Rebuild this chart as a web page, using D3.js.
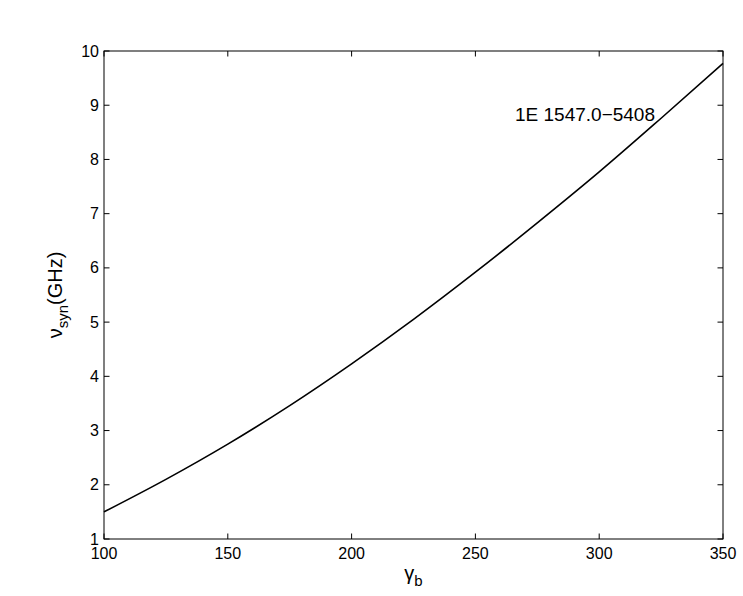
<!DOCTYPE html>
<html><head><meta charset="utf-8">
<script src="https://cdn.jsdelivr.net/npm/d3@7"></script>
<style>body{margin:0;background:#fff;} svg{display:block;}</style>
</head><body>
<svg id="c" width="743" height="596"></svg>
<script>
const gammaB = [100, 125, 150, 175, 200, 225, 250, 275, 300, 325, 350];
const nuSyn  = [1.50, 2.10, 2.75, 3.46, 4.23, 5.05, 5.92, 6.83, 7.77, 8.76, 9.77];
const xTicks = [100, 150, 200, 250, 300, 350];
const yTicks = [1, 2, 3, 4, 5, 6, 7, 8, 9, 10];
const annotation = "1E 1547.0\u22125408";

const svg = d3.select("#c");
const m = {l:104, r:723, t:51, b:539};
const x = d3.scaleLinear().domain([100,350]).range([m.l, m.r]);
const y = d3.scaleLinear().domain([1,10]).range([m.b, m.t]);
const font = "Liberation Sans, Arial, Helvetica, sans-serif";

// ticks on all four sides (inward)
const tl = 5.5;
const ax = svg.append("g").attr("stroke","#000").attr("stroke-width",1);
xTicks.forEach(v=>{
  ax.append("line").attr("x1",x(v)).attr("x2",x(v)).attr("y1",m.b).attr("y2",m.b-tl);
  ax.append("line").attr("x1",x(v)).attr("x2",x(v)).attr("y1",m.t).attr("y2",m.t+tl);
});
yTicks.forEach(v=>{
  ax.append("line").attr("x1",m.l).attr("x2",m.l+tl).attr("y1",y(v)).attr("y2",y(v));
  ax.append("line").attr("x1",m.r).attr("x2",m.r-tl).attr("y1",y(v)).attr("y2",y(v));
});
svg.append("rect").attr("x",m.l).attr("y",m.t).attr("width",m.r-m.l).attr("height",m.b-m.t)
  .attr("fill","none").attr("stroke","#000").attr("stroke-width",1);

// tick labels
svg.append("g").selectAll("text").data(xTicks).join("text")
  .attr("x",d=>x(d)).attr("y",m.b+20).attr("text-anchor","middle")
  .attr("font-family",font).attr("font-size",16).text(d=>d);
svg.append("g").selectAll("text").data(yTicks).join("text")
  .attr("x",m.l-5).attr("y",d=>y(d)+5.5).attr("text-anchor","end")
  .attr("font-family",font).attr("font-size",16).text(d=>d);

// curve
const line = d3.line().x((d,i)=>x(gammaB[i])).y(d=>y(d)).curve(d3.curveMonotoneX);
svg.append("path").datum(nuSyn).attr("d",line).attr("fill","none")
  .attr("stroke","#000").attr("stroke-width",1.6);

// annotation
svg.append("text").attr("x",515).attr("y",121).attr("font-family",font)
  .attr("font-size",19).text(annotation);

// x label
const xl = svg.append("text").attr("x",(m.l+m.r)/2).attr("y",580).attr("text-anchor","middle")
  .attr("font-family",font).attr("font-size",20);
xl.append("tspan").text("\u03b3");
xl.append("tspan").attr("dy",6).attr("font-size",15).text("b");

// y label
const yl = svg.append("text").attr("transform",`translate(62,${(m.t+m.b)/2}) rotate(-90)`)
  .attr("text-anchor","middle").attr("font-family",font).attr("font-size",20);
yl.append("tspan").text("\u03bd");
yl.append("tspan").attr("dy",6).attr("font-size",15).text("syn");
yl.append("tspan").attr("dy",-6).text("(GHz)");
</script>
</body></html>
